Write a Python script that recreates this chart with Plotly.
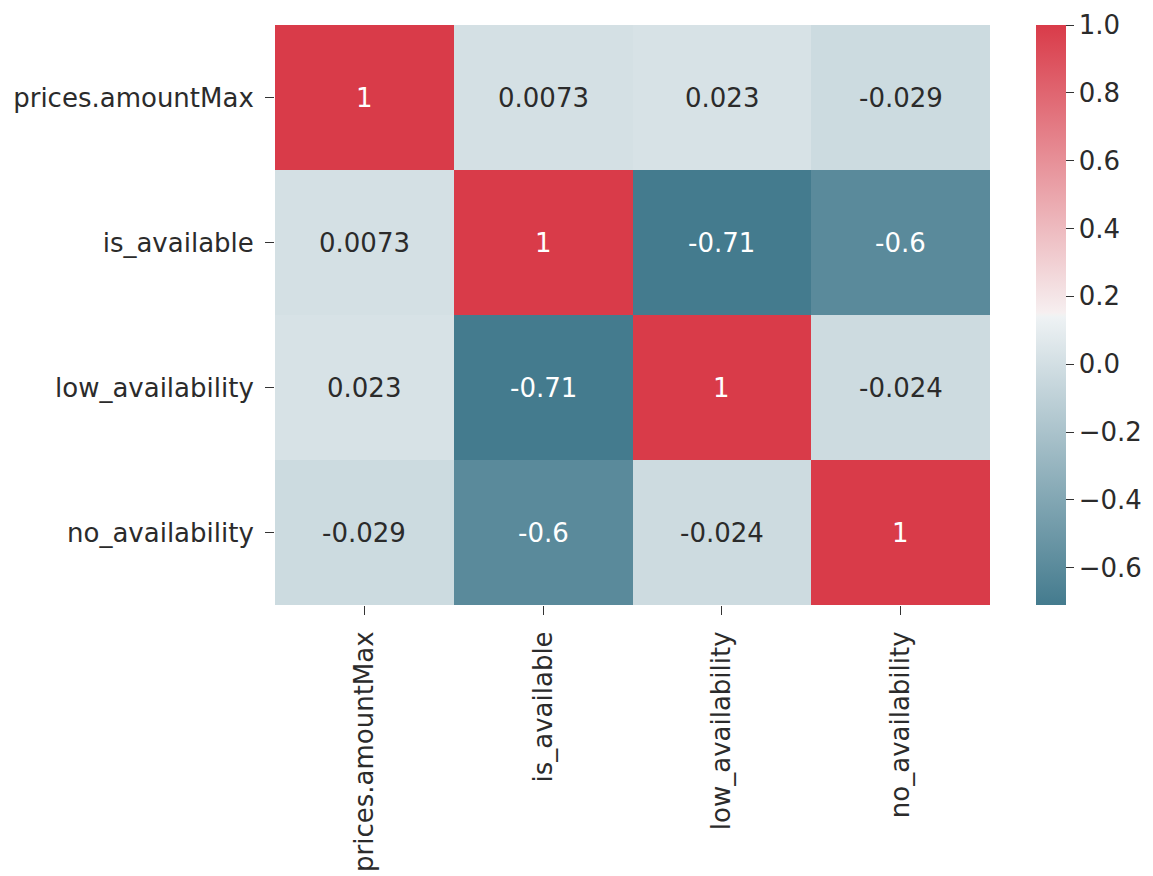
import plotly.graph_objects as go

# Correlation matrix of price / availability features
features = ["prices.amountMax", "is_available", "low_availability", "no_availability"]
corr = [
    [1.0, 0.0073, 0.023, -0.029],
    [0.0073, 1.0, -0.71, -0.6],
    [0.023, -0.71, 1.0, -0.024],
    [-0.029, -0.6, -0.024, 1.0],
]
cbar_ticks = [-0.6, -0.4, -0.2, 0.0, 0.2, 0.4, 0.6, 0.8, 1.0]

zmin, zmax = -0.71, 1.0

# diverging blue-grey -> light -> red palette
colorscale = [
    [0.0, "#447b8e"],
    [0.496, "#eef2f4"],
    [0.5, "#f2f2f2"],
    [0.504, "#f6eff0"],
    [1.0, "#d93b49"],
]

font_family = "DejaVu Sans, Verdana, sans-serif"
font_size = 26
text_color = "#2b2b2b"


def fmt(v):
    return "%.2g" % v


fig = go.Figure(
    go.Heatmap(
        z=corr,
        x=features,
        y=features,
        zmin=zmin,
        zmax=zmax,
        colorscale=colorscale,
        hoverongaps=False,
        colorbar=dict(
            x=1.064,
            xanchor="left",
            xpad=0,
            y=0.5,
            yanchor="middle",
            ypad=0,
            len=1.0,
            thickness=30,
            outlinewidth=0,
            ticks="outside",
            ticklen=8,
            tickwidth=1.3,
            tickcolor="#333333",
            tickvals=cbar_ticks,
            ticktext=[("\u2212%.1f" % -t) if t < 0 else "%.1f" % t for t in cbar_ticks],
            tickfont=dict(family=font_family, size=font_size, color=text_color),
        ),
    )
)

# value labels: light text on saturated cells, dark text elsewhere
annotations = []
for i, row_name in enumerate(features):
    for j, col_name in enumerate(features):
        v = corr[i][j]
        dark_cell = v > 0.6 or v < -0.45
        annotations.append(
            dict(
                x=col_name,
                y=row_name,
                text=fmt(v),
                showarrow=False,
                font=dict(
                    family=font_family,
                    size=font_size,
                    color="#ffffff" if dark_cell else text_color,
                ),
            )
        )

fig.update_layout(
    width=1153,
    height=876,
    margin=dict(l=275, r=163, t=25, b=271, autoexpand=False),
    paper_bgcolor="white",
    plot_bgcolor="white",
    annotations=annotations,
    font=dict(family=font_family, size=font_size, color=text_color),
)

axis_style = dict(
    ticks="outside",
    ticklen=9,
    tickwidth=1.3,
    tickcolor="#333333",
    ticklabelstandoff=6,
    automargin=False,
    showgrid=False,
    zeroline=False,
    showline=False,
    tickfont=dict(family=font_family, size=font_size, color=text_color),
)
fig.update_xaxes(tickangle=-90, **axis_style)
fig.update_yaxes(autorange="reversed", **axis_style)

fig.write_html("out.html")
